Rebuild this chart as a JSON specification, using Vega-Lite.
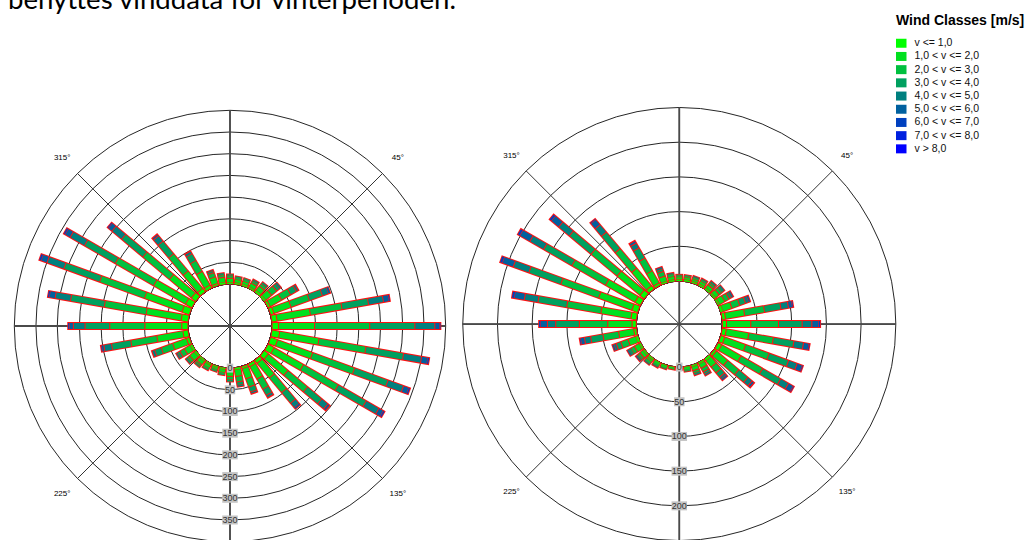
{
  "$schema": "https://vega.github.io/schema/vega-lite/v6.json",
  "padding": 0,
  "spacing": 0,
  "config": {"view": {"stroke": null}, "font": "Liberation Sans", "concat": {"spacing": 0}},
  "datasets": {
    "wind": [
      {"p":"L","d":0,"c1":3,"c2":10,"c3":6,"c4":3},
      {"p":"L","d":10,"c1":3,"c2":8,"c3":4,"c4":3},
      {"p":"L","d":20,"c1":3,"c2":8,"c3":4,"c4":3},
      {"p":"L","d":30,"c1":3,"c2":10,"c3":6,"c4":3,"c5":1},
      {"p":"L","d":40,"c1":4,"c2":13,"c3":7,"c4":4,"c5":1},
      {"p":"L","d":50,"c1":4,"c2":18,"c3":15,"c4":9,"c5":4},
      {"p":"L","d":60,"c1":6,"c2":30,"c3":24,"c4":15,"c5":6},
      {"p":"L","d":70,"c1":8,"c2":42,"c3":45,"c4":32,"c5":15,"c6":4},
      {"p":"L","d":80,"c1":12,"c2":78,"c3":74,"c4":62,"c5":35,"c6":13,"c7":2},
      {"p":"L","d":90,"c1":15,"c2":83,"c3":127,"c4":104,"c5":46,"c6":11,"c7":2},
      {"p":"L","d":100,"c1":18,"c2":92,"c3":110,"c4":88,"c5":42,"c6":15,"c7":3},
      {"p":"L","d":110,"c1":17,"c2":86,"c3":103,"c4":82,"c5":38,"c6":13,"c7":3},
      {"p":"L","d":120,"c1":16,"c2":78,"c3":93,"c4":74,"c5":34,"c6":12,"c7":3},
      {"p":"L","d":130,"c1":12,"c2":59,"c3":59,"c4":43,"c5":18,"c6":6},
      {"p":"L","d":140,"c1":9,"c2":44,"c3":44,"c4":32,"c5":13,"c6":4},
      {"p":"L","d":150,"c1":7,"c2":33,"c3":27,"c4":16,"c5":7},
      {"p":"L","d":160,"c1":5,"c2":25,"c3":20,"c4":12,"c5":5},
      {"p":"L","d":170,"c1":4,"c2":16,"c3":13,"c4":8,"c5":3},
      {"p":"L","d":180,"c1":5,"c2":14,"c3":8,"c4":4},
      {"p":"L","d":190,"c1":3,"c2":8,"c3":4,"c4":2},
      {"p":"L","d":200,"c1":2,"c2":6,"c3":3,"c4":2},
      {"p":"L","d":210,"c1":3,"c2":8,"c3":4,"c4":2},
      {"p":"L","d":220,"c1":3,"c2":10,"c3":5,"c4":3},
      {"p":"L","d":230,"c1":4,"c2":14,"c3":7,"c4":4,"c5":1},
      {"p":"L","d":240,"c1":4,"c2":16,"c3":12,"c4":7,"c5":3},
      {"p":"L","d":250,"c1":7,"c2":34,"c3":28,"c4":16,"c5":7},
      {"p":"L","d":260,"c1":12,"c2":61,"c3":61,"c4":45,"c5":18,"c6":6,"c7":1},
      {"p":"L","d":270,"c1":14,"c2":85,"c3":81,"c4":57,"c5":27,"c6":10,"c7":2},
      {"p":"L","d":280,"c1":16,"c2":82,"c3":98,"c4":79,"c5":36,"c6":14,"c7":3},
      {"p":"L","d":290,"c1":18,"c2":92,"c3":110,"c4":88,"c5":41,"c6":15,"c7":4},
      {"p":"L","d":300,"c1":17,"c2":85,"c3":102,"c4":82,"c5":38,"c6":14,"c7":3},
      {"p":"L","d":310,"c1":13,"c2":66,"c3":80,"c4":64,"c5":29,"c6":11,"c7":2},
      {"p":"L","d":320,"c1":10,"c2":52,"c3":52,"c4":38,"c5":16,"c6":5},
      {"p":"L","d":330,"c1":8,"c2":36,"c3":29,"c4":18,"c5":7},
      {"p":"L","d":340,"c1":5,"c2":16,"c3":10,"c4":5,"c5":2},
      {"p":"L","d":350,"c1":4,"c2":12,"c3":6,"c4":3,"c5":1},
      {"p":"R","d":0,"c1":2,"c2":4,"c3":2,"c4":1},
      {"p":"R","d":10,"c1":2,"c2":4,"c3":2,"c4":1},
      {"p":"R","d":20,"c1":2,"c2":4,"c3":2,"c4":1,"c5":1},
      {"p":"R","d":30,"c1":2,"c2":5,"c3":2,"c4":1,"c5":1},
      {"p":"R","d":40,"c1":2,"c2":6,"c3":4,"c4":2,"c5":1},
      {"p":"R","d":50,"c1":2,"c2":7,"c3":5,"c4":3,"c5":2},
      {"p":"R","d":60,"c1":2,"c2":9,"c3":7,"c4":4,"c5":2,"c6":1},
      {"p":"R","d":70,"c1":3,"c2":14,"c3":12,"c4":9,"c5":5,"c6":2},
      {"p":"R","d":80,"c1":5,"c2":28,"c3":29,"c4":24,"c5":11,"c6":6,"c7":1},
      {"p":"R","d":90,"c1":6,"c2":35,"c3":40,"c4":34,"c5":14,"c6":10,"c7":2},
      {"p":"R","d":100,"c1":6,"c2":33,"c3":36,"c4":30,"c5":14,"c6":8,"c7":1},
      {"p":"R","d":110,"c1":6,"c2":32,"c3":36,"c4":30,"c5":13,"c6":8,"c7":1},
      {"p":"R","d":120,"c1":6,"c2":32,"c3":36,"c4":30,"c5":13,"c6":8,"c7":1},
      {"p":"R","d":130,"c1":4,"c2":21,"c3":21,"c4":17,"c5":8,"c6":4},
      {"p":"R","d":140,"c1":3,"c2":12,"c3":11,"c4":8,"c5":4,"c6":2},
      {"p":"R","d":150,"c1":2,"c2":7,"c3":6,"c4":4,"c5":2},
      {"p":"R","d":160,"c1":2,"c2":6,"c3":4,"c4":2,"c5":1},
      {"p":"R","d":170,"c1":1,"c2":3,"c3":2,"c4":1},
      {"p":"R","d":180,"c1":1,"c2":2,"c3":1},
      {"p":"R","d":190,"c1":1,"c2":2,"c3":1},
      {"p":"R","d":200,"c1":1,"c2":3,"c3":1,"c4":1},
      {"p":"R","d":210,"c1":1,"c2":3,"c3":2,"c4":1,"c5":1},
      {"p":"R","d":220,"c1":2,"c2":4,"c3":3,"c4":1,"c5":1},
      {"p":"R","d":230,"c1":2,"c2":6,"c3":4,"c4":2,"c5":1,"c6":1},
      {"p":"R","d":240,"c1":2,"c2":8,"c3":6,"c4":3,"c5":2,"c6":1},
      {"p":"R","d":250,"c1":3,"c2":12,"c3":11,"c4":7,"c5":4,"c6":2},
      {"p":"R","d":260,"c1":4,"c2":22,"c3":23,"c4":18,"c5":9,"c6":6,"c7":1},
      {"p":"R","d":270,"c1":6,"c2":35,"c3":41,"c4":34,"c5":12,"c6":10,"c7":2},
      {"p":"R","d":280,"c1":8,"c2":44,"c3":50,"c4":42,"c5":20,"c6":15,"c7":3},
      {"p":"R","d":290,"c1":9,"c2":51,"c3":58,"c4":49,"c5":24,"c6":17,"c7":3},
      {"p":"R","d":300,"c1":9,"c2":49,"c3":56,"c4":47,"c5":23,"c6":17,"c7":3},
      {"p":"R","d":310,"c1":8,"c2":43,"c3":49,"c4":41,"c5":20,"c6":14,"c7":3},
      {"p":"R","d":320,"c1":6,"c2":33,"c3":37,"c4":31,"c5":14,"c6":10,"c7":1},
      {"p":"R","d":330,"c1":4,"c2":20,"c3":21,"c4":17,"c5":8,"c6":4},
      {"p":"R","d":340,"c1":2,"c2":8,"c3":7,"c4":4,"c5":2,"c6":1},
      {"p":"R","d":350,"c1":2,"c2":5,"c3":3,"c4":1,"c5":1}
    ],
    "spokes": [{"a":0},{"a":45},{"a":90},{"a":135},{"a":180},{"a":225},{"a":270},{"a":315}],
    "degs": [{"a":45,"t":"45°"},{"a":135,"t":"135°"},{"a":225,"t":"225°"},{"a":315,"t":"315°"}]
  },
  "hconcat": [
    {
      "width": 460,
      "height": 540,
      "encoding": {
        "x": {"field": "px", "type": "quantitative", "scale": {"domain": [-530, 530], "nice": false, "zero": false}, "axis": null},
        "y": {"field": "py", "type": "quantitative", "scale": {"domain": [-493.1, 751.2], "nice": false, "zero": false}, "axis": null}
      },
      "layer": [
        {
          "data": {"values": [{"g":0},{"g":50},{"g":100},{"g":150},{"g":200},{"g":250},{"g":300},{"g":350},{"g":400}]},
          "transform": [{"calculate": "0", "as": "px"}, {"calculate": "0", "as": "py"}],
          "mark": {"type": "arc", "theta": 0, "theta2": 6.2832, "filled": false, "color": "#262626", "strokeWidth": 1},
          "encoding": {"radius": {"field": "g", "type": "quantitative", "stack": null, "scale": {"type": "linear", "zero": false, "domain": [0, 400], "range": [42.09, 215.68]}}}
        },
        {
          "data": {"name": "spokes"},
          "transform": [
            {"calculate": "0", "as": "px"}, {"calculate": "0", "as": "py"},
            {"calculate": "497*sin(datum.a*PI/180)", "as": "qx"},
            {"calculate": "497*cos(datum.a*PI/180)", "as": "qy"}
          ],
          "mark": {"type": "rule", "color": "#333333", "strokeWidth": 1},
          "encoding": {"x2": {"field": "qx"}, "y2": {"field": "qy"}}
        },
        {
          "data": {"name": "spokes"},
          "transform": [
            {"filter": "datum.a % 90 == 0"},
            {"calculate": "0", "as": "px"}, {"calculate": "0", "as": "py"},
            {"calculate": "497*sin(datum.a*PI/180)", "as": "qx"},
            {"calculate": "497*cos(datum.a*PI/180)", "as": "qy"}
          ],
          "mark": {"type": "rule", "color": "#4a4a4a", "strokeWidth": 1.8},
          "encoding": {"x2": {"field": "qx"}, "y2": {"field": "qy"}}
        },
        {
          "data": {"name": "wind"},
          "transform": [
            {"filter": "datum.p == 'L'"},
            {"fold": ["c1","c2","c3","c4","c5","c6","c7","c8","c9"], "as": ["k","n"]},
            {"filter": "datum.n > 0"},
            {"aggregate": [{"op": "sum", "field": "n", "as": "tot"}], "groupby": ["d"]},
            {"calculate": "datum.d*PI/180", "as": "a"},
            {"calculate": "96*sin(datum.a)", "as": "px"},
            {"calculate": "96*cos(datum.a)", "as": "py"},
            {"calculate": "(99+datum.tot)*sin(datum.a)", "as": "qx"},
            {"calculate": "(99+datum.tot)*cos(datum.a)", "as": "qy"}
          ],
          "mark": {"type": "rule", "color": "#ff1010", "strokeWidth": 8},
          "encoding": {"x2": {"field": "qx"}, "y2": {"field": "qy"}}
        },
        {
          "data": {"name": "wind"},
          "transform": [
            {"filter": "datum.p == 'L'"},
            {"fold": ["c1","c2","c3","c4","c5","c6","c7","c8","c9"], "as": ["k","n"]},
            {"filter": "datum.n > 0"},
            {"stack": "n", "groupby": ["d"], "sort": [{"field": "k", "order": "ascending"}], "as": ["s0","s1"]},
            {"calculate": "datum.d*PI/180", "as": "a"},
            {"calculate": "datum.s1 - datum.s0 > 4 ? 1.1 : 0", "as": "e"},
            {"calculate": "(97+datum.s0+datum.e)*sin(datum.a)", "as": "px"},
            {"calculate": "(97+datum.s0+datum.e)*cos(datum.a)", "as": "py"},
            {"calculate": "(97+datum.s1-datum.e)*sin(datum.a)", "as": "qx"},
            {"calculate": "(97+datum.s1-datum.e)*cos(datum.a)", "as": "qy"}
          ],
          "mark": {"type": "rule", "strokeWidth": 6},
          "encoding": {
            "x2": {"field": "qx"}, "y2": {"field": "qy"},
            "color": {
              "field": "k", "type": "nominal",
              "scale": {"domain": ["c1","c2","c3","c4","c5","c6","c7","c8","c9"], "range": ["#00ff00","#00e01f","#00c03f","#00a05f","#00807f","#00609f","#0040bf","#0020df","#0000ff"]},
              "legend": {
                "title": "Wind Classes [m/s]",
                "orient": "none", "legendX": 896, "legendY": 14,
                "titleFont": "Liberation Sans", "titleFontSize": 14, "titleFontWeight": "bold", "titleColor": "#000000", "titlePadding": 10,
                "labelFont": "Liberation Sans", "labelFontSize": 10.5, "labelColor": "#111111", "labelOffset": 8,
                "symbolType": "M-1.05,-0.9H1.05V0.9H-1.05Z", "symbolSize": 100, "symbolStrokeWidth": 0, "rowPadding": 2.2,
                "encode": {"symbols": {"update": {"fill": {"scale": "color", "field": "value"}, "strokeWidth": {"value": 0}}}},
                "labelExpr": "['v <= 1,0','1,0 < v <= 2,0','2,0 < v <= 3,0','3,0 < v <= 4,0','4,0 < v <= 5,0','5,0 < v <= 6,0','6,0 < v <= 7,0','7,0 < v <= 8,0','v > 8,0'][toNumber(slice(datum.value,1))-1]"
              }
            }
          }
        },
        {
          "data": {"values": [{"g":0},{"g":50},{"g":100},{"g":150},{"g":200},{"g":250},{"g":300},{"g":350}]},
          "transform": [{"calculate": "0", "as": "px"}, {"calculate": "-(97+datum.g)", "as": "py"}],
          "mark": {"type": "point", "filled": true, "color": "#c4c4c4", "opacity": 1, "size": 100, "strokeWidth": 0},
          "encoding": {
            "shape": {"field": "g", "type": "nominal", "legend": null,
              "scale": {"domain": [0,50,100,150,200,250,300,350], "range": ["M-0.65,-0.9H0.65V0.9H-0.65Z","M-1.05,-0.9H1.05V0.9H-1.05Z","M-1.55,-0.9H1.55V0.9H-1.55Z","M-1.55,-0.9H1.55V0.9H-1.55Z","M-1.55,-0.9H1.55V0.9H-1.55Z","M-1.55,-0.9H1.55V0.9H-1.55Z","M-1.55,-0.9H1.55V0.9H-1.55Z","M-1.55,-0.9H1.55V0.9H-1.55Z"]}}
          }
        },
        {
          "data": {"values": [{"g":0},{"g":50},{"g":100},{"g":150},{"g":200},{"g":250},{"g":300},{"g":350}]},
          "transform": [{"calculate": "0", "as": "px"}, {"calculate": "-(97+datum.g)", "as": "py"}],
          "mark": {"type": "text", "font": "Liberation Sans", "fontSize": 9, "color": "#333333", "align": "center", "baseline": "middle"},
          "encoding": {"text": {"field": "g", "type": "quantitative", "format": "d"}}
        },
        {
          "data": {"name": "degs"},
          "transform": [
            {"calculate": "547*sin(datum.a*PI/180)", "as": "px"},
            {"calculate": "547*cos(datum.a*PI/180)", "as": "py"}
          ],
          "mark": {"type": "text", "font": "Liberation Sans", "fontSize": 8, "color": "#000000", "align": "center", "baseline": "middle"},
          "encoding": {"text": {"field": "t", "type": "nominal"}}
        },
        {
          "data": {"values": [{"t": "benyttes vinddata for vinterperioden."}]},
          "transform": [{"calculate": "-511.5", "as": "px"}, {"calculate": "730.5", "as": "py"}],
          "mark": {"type": "text", "font": "Lato", "fontSize": 27.6, "color": "#000000", "align": "left", "baseline": "alphabetic", "clip": true},
          "encoding": {"text": {"field": "t", "type": "nominal"}}
        }
      ]
    },
    {
      "width": 566,
      "height": 540,
      "encoding": {
        "x": {"field": "px", "type": "quantitative", "scale": {"domain": [-300.1, 515.4], "nice": false, "zero": false}, "axis": null},
        "y": {"field": "py", "type": "quantitative", "scale": {"domain": [-311.2, 466.9], "nice": false, "zero": false}, "axis": null}
      },
      "layer": [
        {
          "data": {"values": [{"g":0},{"g":50},{"g":100},{"g":150},{"g":200},{"g":250}]},
          "transform": [{"calculate": "0", "as": "px"}, {"calculate": "0", "as": "py"}],
          "mark": {"type": "arc", "theta": 0, "theta2": 6.2832, "filled": false, "color": "#262626", "strokeWidth": 1},
          "encoding": {"radius": {"field": "g", "type": "quantitative", "stack": null, "scale": {"type": "linear", "zero": false, "domain": [0, 250], "range": [43.03, 216.53]}}}
        },
        {
          "data": {"name": "spokes"},
          "transform": [
            {"calculate": "0", "as": "px"}, {"calculate": "0", "as": "py"},
            {"calculate": "312*sin(datum.a*PI/180)", "as": "qx"},
            {"calculate": "312*cos(datum.a*PI/180)", "as": "qy"}
          ],
          "mark": {"type": "rule", "color": "#333333", "strokeWidth": 1},
          "encoding": {"x2": {"field": "qx"}, "y2": {"field": "qy"}}
        },
        {
          "data": {"name": "spokes"},
          "transform": [
            {"filter": "datum.a % 90 == 0"},
            {"calculate": "0", "as": "px"}, {"calculate": "0", "as": "py"},
            {"calculate": "312*sin(datum.a*PI/180)", "as": "qx"},
            {"calculate": "312*cos(datum.a*PI/180)", "as": "qy"}
          ],
          "mark": {"type": "rule", "color": "#4a4a4a", "strokeWidth": 1.8},
          "encoding": {"x2": {"field": "qx"}, "y2": {"field": "qy"}}
        },
        {
          "data": {"name": "wind"},
          "transform": [
            {"filter": "datum.p == 'R'"},
            {"fold": ["c1","c2","c3","c4","c5","c6","c7","c8","c9"], "as": ["k","n"]},
            {"filter": "datum.n > 0"},
            {"aggregate": [{"op": "sum", "field": "n", "as": "tot"}], "groupby": ["d"]},
            {"calculate": "datum.d*PI/180", "as": "a"},
            {"calculate": "61.3*sin(datum.a)", "as": "px"},
            {"calculate": "61.3*cos(datum.a)", "as": "py"},
            {"calculate": "(63.3+datum.tot)*sin(datum.a)", "as": "qx"},
            {"calculate": "(63.3+datum.tot)*cos(datum.a)", "as": "qy"}
          ],
          "mark": {"type": "rule", "color": "#ff1010", "strokeWidth": 8},
          "encoding": {"x2": {"field": "qx"}, "y2": {"field": "qy"}}
        },
        {
          "data": {"name": "wind"},
          "transform": [
            {"filter": "datum.p == 'R'"},
            {"fold": ["c1","c2","c3","c4","c5","c6","c7","c8","c9"], "as": ["k","n"]},
            {"filter": "datum.n > 0"},
            {"stack": "n", "groupby": ["d"], "sort": [{"field": "k", "order": "ascending"}], "as": ["s0","s1"]},
            {"calculate": "datum.d*PI/180", "as": "a"},
            {"calculate": "datum.s1 - datum.s0 > 3 ? 0.75 : 0", "as": "e"},
            {"calculate": "(62+datum.s0+datum.e)*sin(datum.a)", "as": "px"},
            {"calculate": "(62+datum.s0+datum.e)*cos(datum.a)", "as": "py"},
            {"calculate": "(62+datum.s1-datum.e)*sin(datum.a)", "as": "qx"},
            {"calculate": "(62+datum.s1-datum.e)*cos(datum.a)", "as": "qy"}
          ],
          "mark": {"type": "rule", "strokeWidth": 6},
          "encoding": {
            "x2": {"field": "qx"}, "y2": {"field": "qy"},
            "color": {
              "field": "k", "type": "nominal",
              "scale": {"domain": ["c1","c2","c3","c4","c5","c6","c7","c8","c9"], "range": ["#00ff00","#00e01f","#00c03f","#00a05f","#00807f","#00609f","#0040bf","#0020df","#0000ff"]}
            }
          }
        },
        {
          "data": {"values": [{"g":0},{"g":50},{"g":100},{"g":150},{"g":200}]},
          "transform": [{"calculate": "0", "as": "px"}, {"calculate": "-(62+datum.g)", "as": "py"}],
          "mark": {"type": "point", "filled": true, "color": "#c4c4c4", "opacity": 1, "size": 100, "strokeWidth": 0},
          "encoding": {
            "shape": {"field": "g", "type": "nominal", "legend": null,
              "scale": {"domain": [0,50,100,150,200], "range": ["M-0.65,-0.9H0.65V0.9H-0.65Z","M-1.05,-0.9H1.05V0.9H-1.05Z","M-1.55,-0.9H1.55V0.9H-1.55Z","M-1.55,-0.9H1.55V0.9H-1.55Z","M-1.55,-0.9H1.55V0.9H-1.55Z"]}}
          }
        },
        {
          "data": {"values": [{"g":0},{"g":50},{"g":100},{"g":150},{"g":200}]},
          "transform": [{"calculate": "0", "as": "px"}, {"calculate": "-(62+datum.g)", "as": "py"}],
          "mark": {"type": "text", "font": "Liberation Sans", "fontSize": 9, "color": "#333333", "align": "center", "baseline": "middle"},
          "encoding": {"text": {"field": "g", "type": "quantitative", "format": "d"}}
        },
        {
          "data": {"name": "degs"},
          "transform": [
            {"calculate": "342*sin(datum.a*PI/180)", "as": "px"},
            {"calculate": "342*cos(datum.a*PI/180)", "as": "py"}
          ],
          "mark": {"type": "text", "font": "Liberation Sans", "fontSize": 8, "color": "#000000", "align": "center", "baseline": "middle"},
          "encoding": {"text": {"field": "t", "type": "nominal"}}
        }
      ]
    }
  ],
  "resolve": {"scale": {"x": "independent", "y": "independent", "radius": "independent", "shape": "independent"}}
}
